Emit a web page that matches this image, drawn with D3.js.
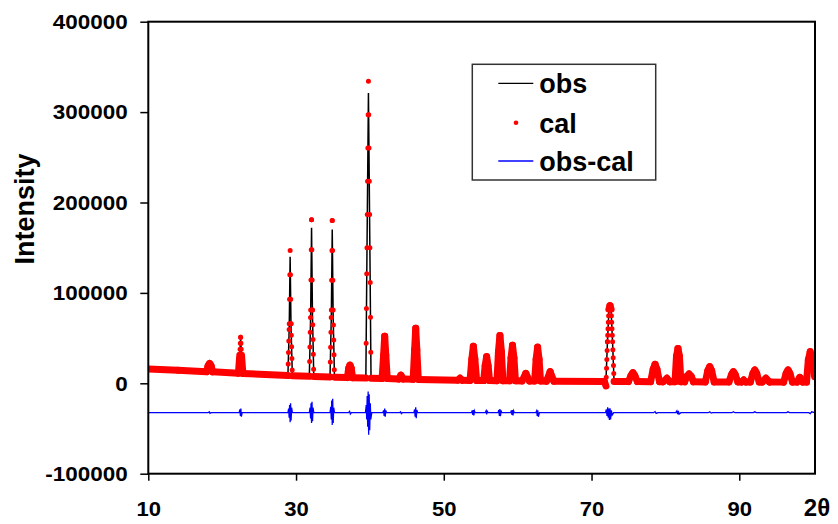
<!DOCTYPE html>
<html>
<head>
<meta charset="utf-8">
<script src="https://cdn.jsdelivr.net/npm/d3@7"></script>
<style>
  html, body { margin: 0; padding: 0; background: #fff; }
  svg text { font-family: "Liberation Sans", Arial, sans-serif; font-weight: bold; fill: #000; }
</style>
</head>
<body>
<div id="chart"></div>
<script>
// XRD 패턴 (obs / cal / obs-cal), 값은 그림에서 읽은 추정치

const xTicks = [10, 30, 50, 70, 90];
const yTicks = [-100000, 0, 100000, 200000, 300000, 400000];
const legendLabels = ['obs', 'cal', 'obs-cal'];

// 관측/계산 패턴 꼭짓점 (피크별로 한 줄)
const twoTheta = [
  10.0, 14.0,
  17.9, 18.1, 18.3, 18.5, 18.7,
  22.2, 22.38, 22.5, 22.62, 22.8,
  28.9, 29.08, 29.2, 29.32, 29.5,
  31.8, 31.98, 32.1, 32.22, 32.4,
  34.6, 34.78, 34.9, 35.02, 35.2,
  36.95, 37.12, 37.3, 37.48, 37.65,
  39.45, 39.6, 39.8, 40.0, 40.15,
  41.65, 41.85, 42.0, 42.15, 42.35,
  43.9, 44.2, 44.5,
  45.85, 46.05, 46.2, 46.35, 46.55,
  51.9, 52.2, 52.5,
  53.55, 53.8, 54.0, 54.2, 54.45,
  55.4, 55.6, 55.8, 56.0, 56.2,
  57.2, 57.4, 57.6, 57.8, 58.0,
  58.9, 59.1, 59.3, 59.5, 59.7,
  60.6, 61.1, 61.6,
  62.3, 62.5, 62.7, 62.9, 63.1,
  63.9, 64.4, 64.9,
  71.75, 71.95, 72.15, 72.35, 72.5, 72.65, 72.85, 73.05,
  75.0, 75.35, 75.6, 75.85, 76.2,
  78.0, 78.35, 78.6, 78.85, 79.2,
  79.7, 80.2, 80.6,
  81.3, 81.5, 81.7, 81.9, 82.1,
  82.6, 82.9, 83.2, 83.5, 83.8,
  85.4, 85.75, 86.0, 86.25, 86.6,
  88.6, 88.95, 89.2, 89.45, 89.8,
  90.3, 90.6, 90.9,
  91.5, 91.85, 92.1, 92.35, 92.7,
  93.1, 93.6, 94.1,
  96.0, 96.35, 96.6, 96.85, 97.2,
  97.8, 98.2, 98.6,
  99.1, 99.35, 99.6, 99.85, 100.2
];

const obs = [
  15800, 14400,
  12900, 19000, 21000, 19000, 12700,
  11100, 30000, 50000, 30000, 10900,
  8500, 63000, 140000, 63000, 8300,
  7700, 77000, 172000, 77000, 7500,
  7000, 76000, 170000, 76000, 6800,
  6300, 16000, 19000, 16000, 6100,
  5800, 144000, 321000, 144000, 5600,
  5300, 30000, 50000, 30000, 5200,
  4800, 8500, 4700,
  4400, 36000, 59000, 36000, 4300,
  3500, 5500, 3400,
  3200, 26000, 40000, 26000, 3100,
  3000, 19000, 29000, 19000, 3000,
  2900, 34000, 52000, 34000, 2800,
  2700, 27000, 41000, 27000, 2700,
  2600, 10500, 2500,
  2500, 26000, 39000, 26000, 2500,
  2400, 12500, 2300,
  2000, 2000, 45000, 80000, 84000, 80000, 45000, 2000,
  1900, 8500, 11500, 8500, 1900,
  1800, 15500, 21000, 15500, 1800,
  1700, 5500, 1700,
  1700, 30000, 38000, 30000, 1700,
  1600, 7500, 10000, 7500, 1600,
  1500, 14000, 18000, 14000, 1500,
  1500, 9500, 12500, 9500, 1500,
  1400, 3600, 1400,
  1400, 11000, 14500, 11000, 1400,
  1400, 5500, 1400,
  1300, 11000, 14500, 11000, 1300,
  1300, 6500, 1300,
  1300, 25000, 34000, 25000, 7000
];

const cal = [
  15800, 14400,
  12900, 19500, 22000, 19500, 12700,
  11100, 31000, 51000, 31000, 10900,
  8500, 66000, 147000, 66000, 8300,
  7700, 81000, 181000, 81000, 7500,
  7000, 81000, 180000, 81000, 6800,
  6300, 16500, 20000, 16500, 6100,
  5800, 150000, 334000, 150000, 5600,
  5300, 31000, 52000, 31000, 5200,
  4800, 9000, 4700,
  4400, 37000, 61000, 37000, 4300,
  3500, 5500, 3400,
  3200, 27000, 41000, 27000, 3100,
  3000, 19500, 29500, 19500, 3000,
  2900, 35000, 53000, 35000, 2800,
  2700, 28000, 42000, 28000, 2700,
  2600, 11000, 2500,
  2500, 26500, 40000, 26500, 2500,
  2400, 12800, 2300,
  2000, -3000, 46000, 82000, 86000, 82000, 46000, 2000,
  1900, 8700, 11700, 8700, 1900,
  1800, 15800, 21000, 15800, 1800,
  1700, 5500, 1700,
  1700, 30000, 38500, 30000, 1700,
  1600, 7700, 10300, 7700, 1600,
  1500, 14300, 18400, 14300, 1500,
  1500, 9700, 12800, 9700, 1500,
  1400, 3600, 1400,
  1400, 11200, 14700, 11200, 1400,
  1400, 5500, 1400,
  1300, 11200, 14700, 11200, 1300,
  1300, 6600, 1300,
  1300, 26000, 35000, 26000, 7300
];

// 차이 곡선 (obs-cal, -32500 근처로 이동되어 있음)
const diffTheta = [
  10.0,
  18.1, 18.25, 18.35, 18.5,
  22.3, 22.4, 22.47, 22.53, 22.6, 22.7,
  28.9, 29.0, 29.07, 29.13, 29.2, 29.26, 29.33, 29.4, 29.5,
  31.8, 31.9, 31.97, 32.03, 32.1, 32.16, 32.23, 32.3, 32.4,
  34.6, 34.7, 34.77, 34.83, 34.9, 34.96, 35.03, 35.1, 35.2,
  37.1, 37.25, 37.35, 37.5,
  39.4, 39.5, 39.57, 39.63, 39.7, 39.76, 39.83, 39.9, 39.97, 40.05, 40.12, 40.25,
  41.75, 41.85, 41.93, 42.0, 42.07, 42.15, 42.25,
  44.0, 44.15, 44.25, 44.4,
  45.95, 46.05, 46.12, 46.2, 46.27, 46.35, 46.45,
  53.75, 53.85, 53.93, 54.0, 54.07, 54.15, 54.25,
  55.6, 55.72, 55.8, 55.88, 56.0,
  57.35, 57.45, 57.53, 57.6, 57.67, 57.75, 57.85,
  59.05, 59.15, 59.23, 59.3, 59.37, 59.45, 59.55,
  62.45, 62.57, 62.65, 62.72, 62.8, 62.95,
  71.9, 72.0, 72.1, 72.18, 72.26, 72.34, 72.42, 72.5, 72.58, 72.68, 72.8, 73.0,
  78.4, 78.6, 78.75, 79.0,
  81.4, 81.55, 81.65, 81.75, 81.85, 82.1,
  85.8, 86.0, 86.2, 86.4,
  89.0, 89.2, 89.4,
  91.9, 92.1, 92.3,
  96.4, 96.6, 96.8,
  99.4, 99.6, 99.8, 100.2
];

const diffI = [
  -32500,
  -32500, -31500, -33300, -32500,
  -32500, -29000, -36000, -28000, -37000, -32500,
  -32500, -28000, -38000, -24000, -43000, -22000, -41000, -27000, -32500,
  -32500, -27000, -39000, -22000, -44000, -20500, -42000, -27000, -32500,
  -32500, -26000, -40000, -19000, -46000, -17000, -44000, -27000, -32500,
  -32500, -31000, -34000, -32500,
  -32500, -24000, -40000, -14000, -48000, -9000, -57000, -12000, -52000, -22000, -40000, -32500,
  -32500, -30000, -36000, -28000, -37000, -30000, -32500,
  -32500, -31500, -33500, -32500,
  -32500, -29000, -37000, -26500, -38500, -29500, -32500,
  -32500, -30000, -35000, -29500, -35500, -30500, -32500,
  -32500, -30500, -34500, -31000, -32500,
  -32500, -29500, -36000, -28500, -36500, -30000, -32500,
  -32500, -30000, -35000, -29500, -35500, -30500, -32500,
  -32500, -30500, -36000, -30000, -37000, -32500,
  -32500, -29000, -36000, -26500, -38000, -28000, -40500, -27500, -40000, -30000, -35000, -32500,
  -32500, -31300, -33300, -32500,
  -32500, -30500, -34000, -30500, -34000, -32500,
  -32500, -31500, -33000, -32500,
  -32500, -31500, -32500,
  -32500, -31600, -32500,
  -32500, -31600, -32500,
  -32500, -33500, -31500, -32500
];

const width = 838;
const height = 524;
const margin = { top: 21.7, right: 23, bottom: 50.3, left: 148.3 };
const innerW = width - margin.left - margin.right;
const innerH = height - margin.top - margin.bottom;
const stepDeg = 0.04; // 측정 간격 (마커 간격 흉내)

const svg = d3.select('#chart')
  .append('svg')
  .attr('width', width)
  .attr('height', height)
  .attr('viewBox', `0 0 ${width} ${height}`);

const g = svg.append('g')
  .attr('transform', `translate(${margin.left},${margin.top})`);

// 스케일
const x = d3.scaleLinear().domain([10, 100.25]).range([0, innerW]);
const y = d3.scaleLinear().domain([-100000, 400000]).range([innerH, 0]);

g.append('clipPath').attr('id', 'plot-clip')
  .append('rect').attr('width', innerW).attr('height', innerH);

// 축 (눈금 글자는 원본처럼 살짝 가로로 넓게)
const yAxis = g.append('g')
  .call(d3.axisLeft(y).tickValues(yTicks).tickSize(8).tickSizeOuter(0).tickPadding(12.6)
    .tickFormat(d => String(d)));
yAxis.select('.domain').remove();
yAxis.selectAll('line').attr('stroke', '#000').attr('stroke-width', 1.5);
yAxis.selectAll('text')
  .style('font-size', '21px')
  .attr('transform', function () {
    return `translate(${this.getAttribute('x')},0) scale(1.07,1)`;
  })
  .attr('x', 0);

const xAxis = g.append('g')
  .attr('transform', `translate(0,${innerH})`)
  .call(d3.axisBottom(x).tickValues(xTicks).tickSize(7).tickSizeOuter(0).tickPadding(20));
xAxis.select('.domain').remove();
xAxis.selectAll('line').attr('stroke', '#000').attr('stroke-width', 1.5);
xAxis.selectAll('text').style('font-size', '21px').attr('transform', 'scale(1.05,1)');

// 데이터
const pts = twoTheta.map((t, i) => ({ t, obs: obs[i], cal: cal[i] }));
const diffPts = diffTheta.map((t, i) => ({ t, v: diffI[i] }));

const plot = g.append('g').attr('clip-path', 'url(#plot-clip)');

plot.append('path')
  .datum(pts)
  .attr('fill', 'none')
  .attr('stroke', '#000')
  .attr('stroke-width', 1.5)
  .attr('d', d3.line().x(d => x(d.t)).y(d => y(d.obs)));

// cal: 측정 간격마다 찍히는 마커를 구간별 dash 간격으로 표현
const calLine = d3.line().x(d => x(d.t)).y(d => y(d.cal));
const segGap = ([a, b]) => {
  const len = Math.hypot(x(b.t) - x(a.t), y(b.cal) - y(a.cal));
  return len / Math.max(1, (b.t - a.t) / stepDeg);
};
plot.append('g')
  .selectAll('path')
  .data(d3.pairs(pts))
  .join('path')
  .attr('fill', 'none')
  .attr('stroke', '#ff0000')
  .attr('stroke-linecap', 'round')
  .attr('stroke-width', d => segGap(d) < 6 ? 7 : 5)
  .attr('stroke-dasharray', d => segGap(d) < 6 ? null : `0 ${segGap(d)}`)
  .attr('d', d => calLine(d));

plot.append('path')
  .datum(diffPts)
  .attr('fill', 'none')
  .attr('stroke', '#0000ff')
  .attr('stroke-width', 1.3)
  .attr('d', d3.line().x(d => x(d.t)).y(d => y(d.v)));

// 플롯 테두리
g.append('rect')
  .attr('width', innerW)
  .attr('height', innerH)
  .attr('fill', 'none')
  .attr('stroke', '#000')
  .attr('stroke-width', 2);

// 축 제목
svg.append('text')
  .attr('transform', 'translate(34,209) rotate(-90)')
  .attr('text-anchor', 'middle')
  .style('font-size', '27px')
  .text('Intensity');

svg.append('text')
  .attr('x', 817)
  .attr('y', 515.5)
  .attr('text-anchor', 'middle')
  .style('font-size', '24px')
  .text('2θ');

// 범례
const legend = svg.append('g').attr('transform', 'translate(472.3,64.3)');
legend.append('rect')
  .attr('width', 183.4)
  .attr('height', 115.7)
  .attr('fill', '#fff')
  .attr('stroke', '#333')
  .attr('stroke-width', 1.5);

const rowY = [19, 58.4, 96.7];
legendLabels.forEach((label, i) => {
  const ry = rowY[i];
  if (label === 'cal') {
    legend.append('circle').attr('cx', 43.7).attr('cy', ry).attr('r', 2.3).attr('fill', '#ff0000');
  } else {
    legend.append('line')
      .attr('x1', 26).attr('x2', 61).attr('y1', ry).attr('y2', ry)
      .attr('stroke', label === 'obs' ? '#000' : '#0000ff')
      .attr('stroke-width', 1.3);
  }
  legend.append('text')
    .attr('x', 67)
    .attr('y', ry)
    .attr('dy', '0.37em')
    .style('font-size', '27px')
    .text(label);
});
</script>
</body>
</html>
